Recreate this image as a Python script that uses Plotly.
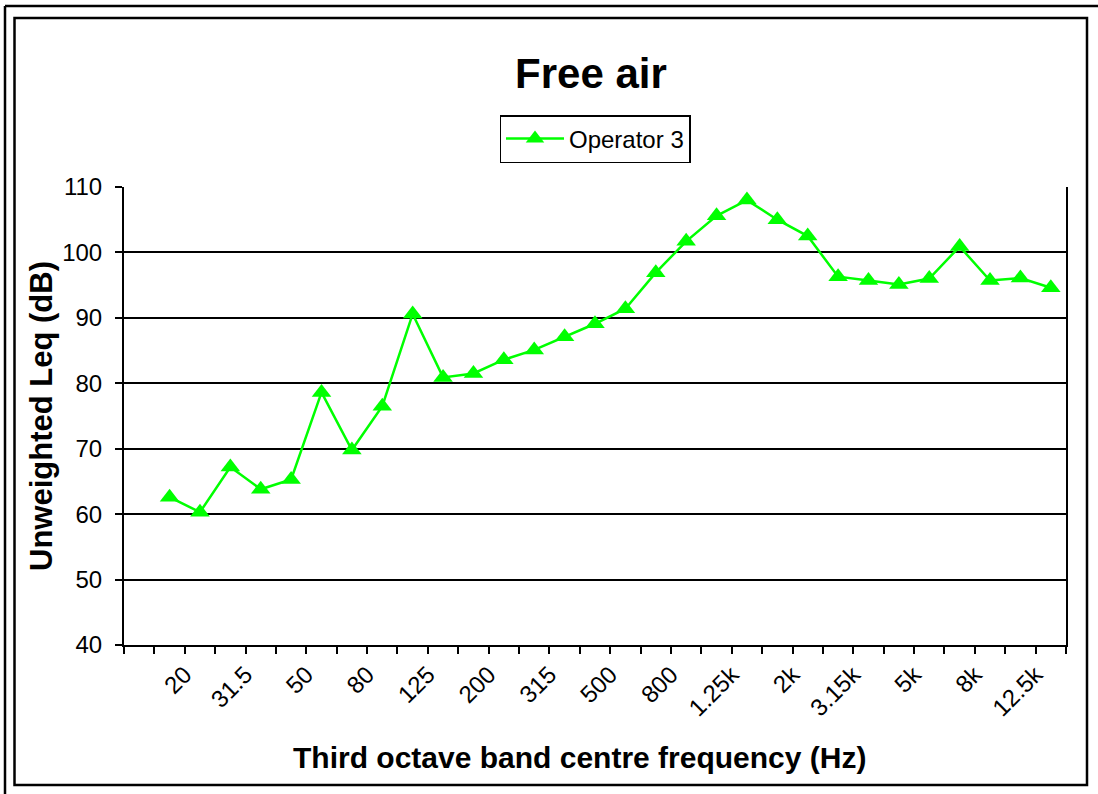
import plotly.graph_objects as go

# Third-octave band centre frequencies (Hz) and measured unweighted Leq (dB)
bands = ["20", "25", "31.5", "40", "50", "63", "80", "100", "125", "160",
         "200", "250", "315", "400", "500", "630", "800", "1k", "1.25k", "1.6k",
         "2k", "2.5k", "3.15k", "4k", "5k", "6.3k", "8k", "10k", "12.5k", "16k"]
operator_3 = [62.6, 60.3, 67.2, 63.8, 65.3, 78.6, 69.8, 76.5, 90.6, 80.9,
              81.5, 83.6, 85.1, 87.1, 89.1, 91.4, 96.9, 101.7, 105.6, 108.0,
              105.0, 102.5, 96.3, 95.7, 95.1, 96.0, 100.9, 95.7, 96.1, 94.6]

y_ticks = [40, 50, 60, 70, 80, 90, 100, 110]

# category slots: slot 0 is left empty, bands occupy slots 1..30
x_pos = list(range(1, len(bands) + 1))
# every other band is labelled; rotated labels end at the slot's right edge
label_pos = [p + 0.5 for p in x_pos[0::2]]
label_txt = bands[0::2]

W, H = 1098, 794
L, R, T, B = 124, 1066, 187, 645
FONT = "Liberation Sans, Arial, sans-serif"


def px_x(p):
    return (p - L) / (R - L)


def px_y(p):
    return (B - p) / (B - T)


fig = go.Figure()
fig.add_trace(go.Scatter(
    x=x_pos, y=operator_3, mode="lines+markers", name="Operator 3",
    line=dict(color="#00FF00", width=2.5),
    marker=dict(symbol="triangle-up", size=17, color="#00FF00",
                line=dict(width=0)),
))

fig.update_layout(
    width=W, height=H,
    margin=dict(l=L, r=W - R, t=T, b=H - B),
    paper_bgcolor="white", plot_bgcolor="white",
    font=dict(family=FONT, size=24, color="black"),
    title=dict(text="Free air", x=591 / W, xanchor="center",
               y=1 - 73 / H, yanchor="middle",
               font=dict(family=FONT, size=42, color="black", weight="bold")),
    showlegend=True,
    legend=dict(x=0.5, xanchor="center", y=px_y(115), yanchor="top",
                bordercolor="black", borderwidth=1.5, bgcolor="white",
                font=dict(family=FONT, size=24, color="black"),
                itemwidth=58, tracegroupgap=0),
)

fig.update_xaxes(
    range=[-0.5, len(bands) + 0.5], tickmode="array",
    tickvals=label_pos, ticktext=label_txt, tickangle=-45,
    ticks="", showgrid=False, zeroline=False,
    showline=True, linecolor="black", linewidth=2,
    ticklabelstandoff=4,
    tickfont=dict(family=FONT, size=24, color="black"),
    minor=dict(tickmode="linear", tick0=-0.5, dtick=1, ticks="outside",
               ticklen=7, tickwidth=2, tickcolor="black", showgrid=False),
)
fig.update_yaxes(
    range=[40, 110], tickmode="array", tickvals=y_ticks,
    ticks="outside", ticklen=7, tickwidth=2, tickcolor="black",
    ticklabelstandoff=8,
    showgrid=True, gridcolor="black", gridwidth=2, zeroline=False,
    showline=True, linecolor="black", linewidth=2, mirror=True,
    tickfont=dict(family=FONT, size=24, color="black"),
)

# axis titles
fig.add_annotation(text="Third octave band centre frequency (Hz)",
                   xref="paper", yref="paper", x=px_x(579), y=px_y(757),
                   xanchor="center", yanchor="middle", showarrow=False,
                   font=dict(family=FONT, size=30, color="black", weight="bold"))
fig.add_annotation(text="Unweighted Leq (dB)", textangle=-90,
                   xref="paper", yref="paper", x=px_x(41), y=px_y(416),
                   xanchor="center", yanchor="middle", showarrow=False,
                   font=dict(family=FONT, size=31, color="black", weight="bold"))

# chart-area border and the outer frame on the top and left edges
fig.add_shape(type="rect", xref="paper", yref="paper",
              x0=px_x(14.5), x1=px_x(1087), y0=px_y(785), y1=px_y(18),
              line=dict(color="black", width=2.5), layer="below")
fig.add_shape(type="line", xref="paper", yref="paper",
              x0=px_x(5), x1=px_x(W), y0=px_y(6), y1=px_y(6),
              line=dict(color="black", width=2.5))
fig.add_shape(type="line", xref="paper", yref="paper",
              x0=px_x(5), x1=px_x(5), y0=px_y(6), y1=px_y(H),
              line=dict(color="black", width=2.5))

fig.write_html("out.html")
